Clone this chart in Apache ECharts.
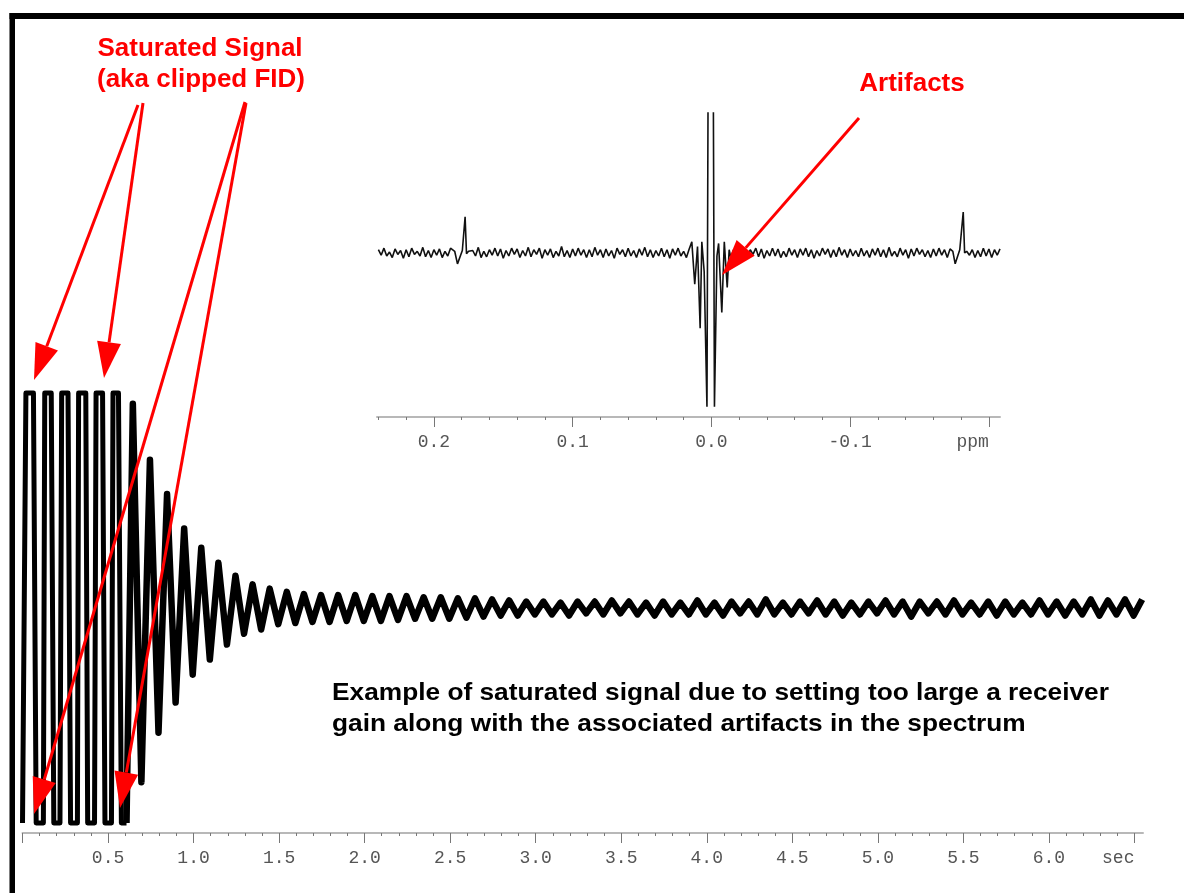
<!DOCTYPE html>
<html>
<head>
<meta charset="utf-8">
<script src="https://cdn.jsdelivr.net/npm/echarts@6/dist/echarts.min.js"></script>
<style>
  html, body { margin: 0; padding: 0; background: #fff; }
  #chart { width: 1184px; height: 893px; }
</style>
</head>
<body>
<div id="chart"></div>
<script>
// ---- FID (time domain), receiver limit = +/-100 ----
// clipped part: [sec, value] corners of the flat tops / bottoms
const fidClipped = [
  [0, -100], [0.02, 100], [0.064, 100], [0.08, -100], [0.122, -100], [0.13, 100], [0.168, 100],
  [0.183, -100], [0.219, -100], [0.229, 100], [0.266, 100], [0.281, -100], [0.321, -100],
  [0.328, 100], [0.37, 100], [0.381, -100], [0.421, -100], [0.43, 100], [0.468, 100],
  [0.482, -100], [0.52, -100], [0.529, 100], [0.561, 100], [0.578, -100], [0.608, -100]
]
// after that: extremes of each half cycle
const fidT0 = 0.645
const fidHalfPeriod = 0.05
const fidExtremes = [
  95, -81, 69, -58, 53, -44, 37, -31, 28, -24, 21, -17, 15, -12, 11, -10, 9, -7.5, 7.5, -7,
  6.5, -6.5, 6, -6.5, 6, -6, 6, -6, 5.5, -6, 5.5, -5.5, 5.5, -5, 5, -5, 5, -5, 4.5, -4.5,
  4.5, -4, 4, -3.5, 3.5, -3.5, 3, -3, 3,
  -3, 2.5, -3.5, 3, -2.5, 3, -3, 3.5, -2.5, 3,
  -3, 2.5, -3.5, 3, -3, 2.5, -3, 3.5, -3, 2.5,
  -3.5, 3, -2.5, 3, -3, 4, -3, 2.5, -3, 3,
  -2.5, 3.5, -3, 3, -3.5, 2.5, -3, 3, -2.5, 3.5,
  -3, 3, -4, 3, -2.5, 3, -3, 3.5, -3, 2.5,
  -3, 3, -3.5, 3, -3, 2.5, -3, 3.5, -3, 3,
  -3.5, 3, -3, 4, -3.5, 3.5, -3, 4, -3.5, 4
]
const secMajorTicks = [0, 0.5, 1, 1.5, 2, 2.5, 3, 3.5, 4, 4.5, 5, 5.5, 6, 6.5]
const secLabelValues = [0.5, 1, 1.5, 2, 2.5, 3, 3.5, 4, 4.5, 5, 5.5, 6, 6.5]

// ---- inset spectrum (ppm) ----
const specStart = 0.240
const specStep = 0.002
const specNoise = [
  2, -1.5, 3, -2, 0.5, -3, 2.5, -1, 1.5, -3.5, 2, -2.5, 3, -1, 1, -2, 3.5, -2.5, 1.5, -3, 2, -1.5, 2.5, -3, 1,
  -2, 3, -1.5, 2, -4, 2.5, -1, 3, -2.5, 1.5, -2, 3.5, -3, 1, -2.5, 2, -1.5, 3, -2, 2.5, -3.5, 1.5, -2, 3, -1,
  2.5, -3, 1.5, -2, 3.5, -2.5, 2, -1, 3, -3.5, 2, -1.5, 2.5, -3, 1, -2, 4, -2.5, 1.5, -3, 2.5, -2, 3, -1.5, 2,
  -3, 2, -2.5, 3.5, -1.5, 2, -3, 2.5, -2, 1.5, -3.5, 3, -1, 2, -2.5, 3, -2, 1.5, -3, 2.5, -1.5, 3.5, -2.5, 2, -3,
  1.5, -2, 3, -2.5, 2, -3.5, 2.5, -1.5, 3, -2, 1, -3, 2.5, -2, 3.5, -1.5, 2, -3, 2.5, -2.5, 1.5, -2, 3, -3.5, 2,
  -1.5, 2.5, -3, 2, -2, 3.5, -2.5, 1.5, -3, 2, -1, 3, -2.5, 2.5, -3.5, 1.5, -2, 3, -2, 2.5, -3, 1, -2.5, 3, -1.5,
  2, -3, 2.5, -1.5, 3, -2.5, 2, -3.5, 1.5, -2, 3, -1, 2.5, -3, 2, -2.5, 3.5, -1.5, 2, -3, 2.5, -2, 1.5, -2.5, 3,
  -2, 1.5, -3, 2.5, -1.5, 3, -2.5, 2, -3, 3.5, -2, 1, -2.5, 3, -1.5, 2, -3.5, 2.5, -2, 3, -1, 2, -2.5, 1.5, -3,
  2.5, -2, 3, -1.5, 2, -3, 2.5, -2.5, 1.5, -3, 3, -2, 2.5, -1.5, 2, -3, 1.5, -2.5, 3, -2, 2.5, -3, 2, -1.5, 2.5
]
// sharp features: [ppm, value]
const specFeatures = [
  [0.185, 1], [0.183, -7], [0.1795, 1.5], [0.1775, 23], [0.1765, -0.5], [0.175, 1],
  [0.0141, 7], [0.0120, -20], [0.0100, 4], [0.0081, -48], [0.0069, 7], [0.0052, -12],
  [0.0032, -98], [0.0016, 300], [-0.0006, 300], [-0.0022, -98], [-0.0040, -2], [-0.0052, 6],
  [-0.0075, -38], [-0.0093, 7], [-0.0114, -22], [-0.0128, 2],
  [-0.174, 1], [-0.1757, -7], [-0.179, 2], [-0.1815, 26], [-0.1825, 0], [-0.184, 1]
]
const specGaps = [[0.1865, 0.1735], [0.0155, -0.0135], [-0.1725, -0.1855]]
const ppmMajorTicks = [-0.2, -0.1, 0, 0.1, 0.2]

// ---- build series data ----
const fidTail = [fidClipped[fidClipped.length - 1]]
fidExtremes.forEach((v, i) => {
  fidTail.push([+(fidT0 + i * fidHalfPeriod).toFixed(3), v])
})

const specData = []
specNoise.forEach((v, i) => {
  const p = +(specStart - i * specStep).toFixed(4)
  if (!specGaps.some(g => p <= g[0] && p >= g[1])) specData.push([p, v])
})
specFeatures.forEach(f => specData.push(f))
specData.sort((a, b) => b[0] - a[0])

const secMinorTicks = []
for (let i = 1; i <= 65; i++) if (i % 5 !== 0) secMinorTicks.push(i / 10)
const ppmMinorTicks = []
for (let i = -10; i <= 12; i++) if (i % 5 !== 0) ppmMinorTicks.push(+(i * 0.02).toFixed(2))

const tickFont = '"Liberation Mono", "DejaVu Sans Mono", monospace'
const red = '#ff0000'

const arrow = (tail, tip) => {
  const dx = tip[0] - tail[0]
  const dy = tip[1] - tail[1]
  const len = Math.hypot(dx, dy)
  const ux = dx / len
  const uy = dy / len
  const headLen = 36
  const headW = 12
  const bx = tip[0] - ux * headLen
  const by = tip[1] - uy * headLen
  return [
    {
      type: 'line',
      shape: { x1: tail[0], y1: tail[1], x2: bx, y2: by },
      style: { stroke: red, lineWidth: 3 },
      z: 100
    },
    {
      type: 'polygon',
      shape: { points: [tip, [bx - uy * headW, by + ux * headW], [bx + uy * headW, by - ux * headW]] },
      style: { fill: red },
      z: 100
    }
  ]
}

const text = (x, y, str, size, color, align, scaleX) => ({
  type: 'text',
  x: x,
  y: y,
  scaleX: scaleX || 1,
  z: 100,
  style: {
    text: str,
    font: 'bold ' + size + 'px "Liberation Sans", Arial, sans-serif',
    fill: color,
    align: align,
    textAlign: align,
    verticalAlign: 'middle',
    textVerticalAlign: 'middle'
  }
})

const chart = echarts.init(document.getElementById('chart'))

const option = {
  animation: false,
  grid: [
    { left: 22.5, right: 41, top: 393, bottom: 70 },
    { left: 377, right: 184, top: 113, bottom: 483 }
  ],
  xAxis: [
    {
      type: 'value', gridIndex: 0, min: 0, max: 6.55, position: 'bottom', offset: 10,
      axisLine: { onZero: false, lineStyle: { color: '#b8b8b8', width: 2 } },
      axisTick: { customValues: secMajorTicks, length: 10, lineStyle: { color: '#777', width: 1 } },
      axisLabel: {
        customValues: secLabelValues, margin: 16, color: '#555', fontSize: 18, fontFamily: tickFont,
        formatter: v => (v === 6.5 ? 'sec   ' : v.toFixed(1))
      },
      splitLine: { show: false }
    },
    {
      type: 'value', gridIndex: 0, min: 0, max: 6.55, position: 'bottom', offset: 10,
      axisLine: { show: false, onZero: false },
      axisTick: { customValues: secMinorTicks, length: 3, lineStyle: { color: '#777', width: 1 } },
      axisLabel: { show: false },
      splitLine: { show: false }
    },
    {
      type: 'value', gridIndex: 1, min: -0.208, max: 0.241, inverse: true, position: 'bottom', offset: 7,
      axisLine: { onZero: false, lineStyle: { color: '#b8b8b8', width: 2 } },
      axisTick: { customValues: ppmMajorTicks, length: 10, lineStyle: { color: '#777', width: 1 } },
      axisLabel: {
        customValues: ppmMajorTicks, margin: 16, color: '#555', fontSize: 18, fontFamily: tickFont,
        formatter: v => (v === -0.2 ? 'ppm   ' : v.toFixed(1))
      },
      splitLine: { show: false }
    },
    {
      type: 'value', gridIndex: 1, min: -0.208, max: 0.241, inverse: true, position: 'bottom', offset: 7,
      axisLine: { show: false, onZero: false },
      axisTick: { customValues: ppmMinorTicks, length: 3, lineStyle: { color: '#777', width: 1 } },
      axisLabel: { show: false },
      splitLine: { show: false }
    }
  ],
  yAxis: [
    {
      type: 'value', gridIndex: 0, min: -100, max: 100,
      axisLine: { show: false, onZero: false },
      axisTick: { customValues: [0], inside: true, length: 3, lineStyle: { color: '#555' } },
      axisLabel: { show: false },
      splitLine: { show: false }
    },
    {
      type: 'value', gridIndex: 1, min: -100, max: 89, show: false,
      splitLine: { show: false }
    }
  ],
  series: [
    {
      type: 'line', xAxisIndex: 0, yAxisIndex: 0, data: fidClipped,
      showSymbol: false, silent: true, clip: false,
      lineStyle: { color: '#000', width: 5, join: 'round' }
    },
    {
      type: 'line', xAxisIndex: 0, yAxisIndex: 0, data: fidTail,
      showSymbol: false, silent: true, clip: false,
      lineStyle: { color: '#000', width: 6.5, join: 'round' }
    },
    {
      type: 'line', xAxisIndex: 2, yAxisIndex: 1, data: specData,
      showSymbol: false, silent: true, clip: true,
      lineStyle: { color: '#111', width: 1.6 }
    }
  ],
  graphic: [
    { type: 'rect', shape: { x: 9.5, y: 13, width: 1175, height: 6 }, style: { fill: '#000' }, z: 100 },
    { type: 'rect', shape: { x: 9.5, y: 13, width: 5.5, height: 880 }, style: { fill: '#000' }, z: 100 },
    text(200, 49, 'Saturated Signal', 26, red, 'center'),
    text(201, 80, '(aka clipped FID)', 26, red, 'center'),
    text(912, 84, 'Artifacts', 26, red, 'center'),
    text(332, 693, 'Example of saturated signal due to setting too large a receiver', 24, '#000', 'left', 1.095),
    text(332, 724, 'gain along with the associated artifacts in the spectrum', 24, '#000', 'left', 1.095),
    ...arrow([138, 105], [34, 380]),
    ...arrow([143, 103], [104, 378]),
    ...arrow([245, 102], [34, 814]),
    ...arrow([246, 103], [120, 808]),
    ...arrow([859, 118], [722, 275])
  ]
}

chart.setOption(option)
</script>
</body>
</html>
